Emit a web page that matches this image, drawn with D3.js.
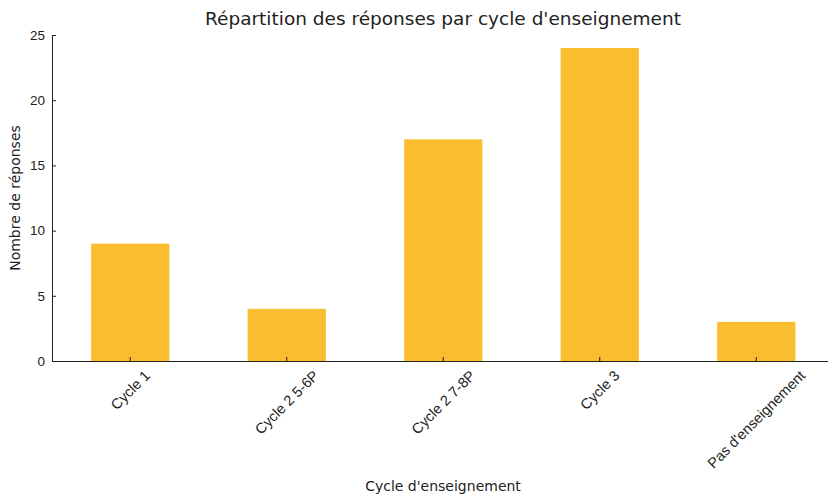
<!DOCTYPE html>
<html>
<head>
<meta charset="utf-8">
<script src="https://cdn.jsdelivr.net/npm/d3@7"></script>
<style>
  body { margin: 0; background: #fff; }
  svg { font-family: "DejaVu Sans", sans-serif; }
</style>
</head>
<body>
<svg width="828" height="494"></svg>
<script>
const categories = ["Cycle 1", "Cycle 2 5-6P", "Cycle 2 7-8P", "Cycle 3", "Pas d'enseignement"];
const counts = [9, 4, 17, 24, 3];
const yTicks = [0, 5, 10, 15, 20, 25];

const svg = d3.select("svg");
const margin = { top: 35, left: 52, bottom: 133 };
const plotH = 494 - margin.top - margin.bottom;
const bandStep = 156.5;

const x = d3.scaleBand()
    .domain(categories)
    .range([margin.left, margin.left + bandStep * categories.length])
    .paddingInner(0.5)
    .paddingOuter(0.25);

const y = d3.scaleLinear()
    .domain([0, 25])
    .range([margin.top + plotH, margin.top]);

// barres
svg.selectAll("rect.bar")
    .data(counts)
    .join("rect")
    .attr("class", "bar")
    .attr("x", (d, i) => x(categories[i]))
    .attr("y", d => y(d))
    .attr("width", x.bandwidth())
    .attr("height", d => y(0) - y(d))
    .attr("fill", "#fbbd30");

// axe Y (ticks vers l'intérieur)
const yAxis = svg.append("g")
    .attr("transform", `translate(${margin.left},0)`)
    .call(d3.axisLeft(y).tickValues(yTicks).tickSizeInner(-4).tickSizeOuter(0).tickPadding(7));
yAxis.select(".domain").attr("stroke", "#222");
yAxis.selectAll("line").attr("stroke", "#222");
yAxis.selectAll("text").attr("font-size", 13.5).attr("fill", "#222");

// axe X : étiquettes centrées sur le tick, tournées à 45°
const xAxis = svg.append("g")
    .attr("transform", `translate(0,${y(0)})`)
    .call(d3.axisBottom(x).tickSizeInner(-4).tickSizeOuter(0));
xAxis.select(".domain").attr("stroke", "#222");
xAxis.selectAll("line").attr("stroke", "#222");
xAxis.selectAll("text")
    .attr("font-size", 14.5)
    .attr("fill", "#222")
    .attr("text-anchor", "middle")
    .attr("y", 0)
    .attr("dy", "0.35em")
    .attr("transform", function () {
        const len = this.getComputedTextLength();
        const half = (len + 14) * Math.SQRT1_2 / 2;
        return `translate(0,${7 + half}) rotate(-45)`;
    });

// titres
svg.append("text")
    .attr("x", 443).attr("y", 25)
    .attr("text-anchor", "middle")
    .attr("font-size", 18.5)
    .attr("fill", "#222")
    .text("Répartition des réponses par cycle d'enseignement");

svg.append("text")
    .attr("x", 443).attr("y", 491)
    .attr("text-anchor", "middle")
    .attr("font-size", 14)
    .attr("fill", "#222")
    .text("Cycle d'enseignement");

svg.append("text")
    .attr("transform", `translate(20,${y(12.5)}) rotate(-90)`)
    .attr("text-anchor", "middle")
    .attr("font-size", 14)
    .attr("fill", "#222")
    .text("Nombre de réponses");
</script>
</body>
</html>
